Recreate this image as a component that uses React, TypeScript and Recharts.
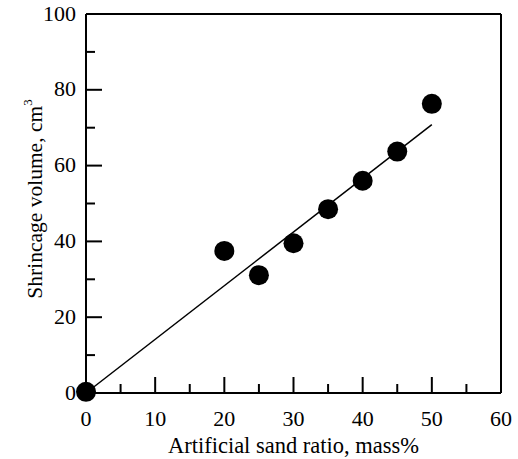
import { ComposedChart, Scatter, XAxis, YAxis } from "recharts";

const sandRatio = [0, 20, 25, 30, 35, 40, 45, 50];
const shrinkage = [0.3, 37.5, 31.1, 39.5, 48.5, 56.0, 63.7, 76.3];
const fitX = [0, 50];
const fitY = [0, 70.8];
const xTicks = [0, 5, 10, 15, 20, 25, 30, 35, 40, 45, 50, 55, 60];
const yTicks = [0, 10, 20, 30, 40, 50, 60, 70, 80, 90, 100];

const points = sandRatio.map((x, i) => ({ x, y: shrinkage[i] }));
const fitLine = fitX.map((x, i) => ({ x, y: fitY[i] }));

const FONT = "Liberation Serif";
const MAJOR = 16;
const MINOR = 9;

function TickText({ x, y, anchor, children }: any) {
  // tick numbers in the original look slightly stretched sideways
  return (
    <text
      transform={`translate(${x} ${y}) scale(1.1 1)`}
      textAnchor={anchor}
      fontFamily={FONT}
      fontSize={20}
      fill="#000"
    >
      {children}
    </text>
  );
}

function BottomTick({ x, y, payload }: any) {
  const major = payload.value % 10 === 0;
  return (
    <g>
      <line x1={x} y1={y} x2={x} y2={y - (major ? MAJOR : MINOR)} stroke="#000" strokeWidth={2} />
      {major && <TickText x={x} y={y + 33} anchor="middle">{payload.value}</TickText>}
    </g>
  );
}

function TopTick({ x, y, payload }: any) {
  const major = payload.value % 10 === 0;
  return <line x1={x} y1={y} x2={x} y2={y + (major ? MAJOR : MINOR)} stroke="#000" strokeWidth={2} />;
}

function LeftTick({ x, y, payload }: any) {
  const major = payload.value % 20 === 0;
  return (
    <g>
      <line x1={x} y1={y} x2={x + (major ? MAJOR : MINOR)} y2={y} stroke="#000" strokeWidth={2} />
      {major && <TickText x={x - 10} y={y + 6.5} anchor="end">{payload.value}</TickText>}
    </g>
  );
}

function RightTick({ x, y, payload }: any) {
  const major = payload.value % 20 === 0;
  return <line x1={x} y1={y} x2={x - (major ? MAJOR : MINOR)} y2={y} stroke="#000" strokeWidth={2} />;
}

const Dot = ({ cx, cy }: any) => <circle cx={cx} cy={cy} r={10} fill="#000" />;

export default function App() {
  return (
    <div style={{ position: "absolute", left: 0, top: 0, background: "#fff" }}>
      <ComposedChart width={518} height={459} margin={{ top: 13, right: 16, bottom: 0, left: 0 }}>
        <XAxis
          xAxisId="b"
          type="number"
          dataKey="x"
          domain={[0, 60]}
          ticks={xTicks}
          interval={0}
          height={66}
          tickSize={0}
          tickMargin={0}
          tickLine={false}
          axisLine={{ stroke: "#000", strokeWidth: 2 }}
          tick={<BottomTick />}
          label={{
            content: ({ viewBox }: any) => (
              <text
                x={viewBox.x + viewBox.width / 2}
                y={viewBox.y + 60}
                textAnchor="middle"
                fontFamily={FONT}
                fontSize={22.5}
                fill="#000"
              >
                Artificial sand ratio, mass%
              </text>
            ),
          }}
        />
        <XAxis
          xAxisId="t"
          orientation="top"
          type="number"
          dataKey="x"
          domain={[0, 60]}
          ticks={xTicks}
          interval={0}
          height={1}
          tickSize={0}
          tickMargin={0}
          tickLine={false}
          axisLine={{ stroke: "#000", strokeWidth: 2 }}
          tick={<TopTick />}
        />
        <YAxis
          yAxisId="l"
          type="number"
          dataKey="y"
          domain={[0, 100]}
          ticks={yTicks}
          interval={0}
          width={86}
          tickSize={0}
          tickMargin={0}
          tickLine={false}
          axisLine={{ stroke: "#000", strokeWidth: 2 }}
          tick={<LeftTick />}
          label={{
            content: () => {
              const cx = 42;
              const cy = 199;
              return (
                <text
                  x={cx}
                  y={cy}
                  transform={`rotate(-90 ${cx} ${cy})`}
                  textAnchor="middle"
                  fontFamily={FONT}
                  fontSize={21.5}
                  fill="#000"
                >
                  Shrincage volume, cm
                  <tspan fontSize={13} dy={-10}>3</tspan>
                </text>
              );
            },
          }}
        />
        <YAxis
          yAxisId="r"
          orientation="right"
          type="number"
          dataKey="y"
          domain={[0, 100]}
          ticks={yTicks}
          interval={0}
          width={1}
          tickSize={0}
          tickMargin={0}
          tickLine={false}
          axisLine={{ stroke: "#000", strokeWidth: 2 }}
          tick={<RightTick />}
        />
        <Scatter
          xAxisId="b"
          yAxisId="l"
          data={fitLine}
          line={{ stroke: "#000", strokeWidth: 1.5 }}
          shape={() => <g />}
          isAnimationActive={false}
        />
        <Scatter xAxisId="b" yAxisId="l" data={points} shape={<Dot />} isAnimationActive={false} />
      </ComposedChart>
    </div>
  );
}
